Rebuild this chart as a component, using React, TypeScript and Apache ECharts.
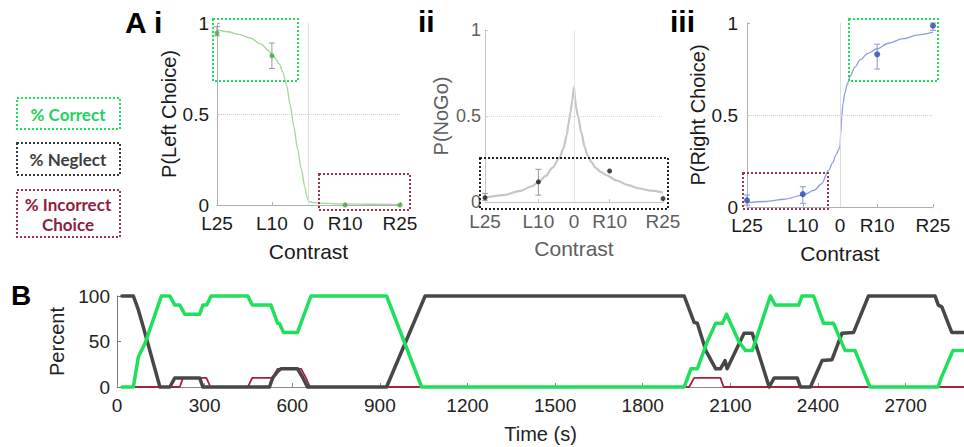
import React, { useEffect, useRef } from 'react';
import * as echarts from 'echarts';

// ---------- Panel A data ----------
const contrastTicks = [-25, -10, 0, 10, 25];
const contrastLabels = ['L25', 'L10', '0', 'R10', 'R25'];
const pointContrasts = [-25, -10, 10, 25];

// i: P(Left Choice)
const leftChoice = [0.945, 0.82, 0.0, 0.0];
const leftErrLow = [0.93, 0.75, 0.0, 0.0];
const leftErrHigh = [0.98, 0.89, 0.0, 0.0];
const leftFitX = [-25, -22, -19, -16, -13, -11, -10, -9, -8, -7, -6, -5, -4, -3, -2, -1, -0.5, 0, 1, 3, 10, 18, 25];
const leftFitY = [0.962, 0.952, 0.938, 0.918, 0.885, 0.85, 0.828, 0.805, 0.775, 0.73, 0.66, 0.55, 0.43, 0.31, 0.2, 0.1, 0.05, 0.02, 0.014, 0.01, 0.006, 0.004, 0.002];

// ii: P(NoGo)
const noGo = [0.025, 0.117, 0.18, 0.02];
const noGoErrLow = [0.01, 0.04, 0.18, 0.02];
const noGoErrHigh = [0.05, 0.19, 0.18, 0.02];
const noGoFitX = [-25, -20, -15, -12, -10, -8, -6, -4.1, -3, -2, -1.6, -1, -0.5, 0, 0.3, 0.6, 1.1, 2, 3, 3.8, 5, 6, 7.5, 9, 12, 15, 18, 21, 25];
const noGoFitY = [0.025, 0.04, 0.065, 0.09, 0.115, 0.15, 0.2, 0.256, 0.31, 0.39, 0.45, 0.52, 0.59, 0.67, 0.6, 0.55, 0.5, 0.41, 0.32, 0.27, 0.23, 0.2, 0.175, 0.157, 0.125, 0.1, 0.08, 0.068, 0.055];

// iii: P(Right Choice)
const rightChoice = [0.036, 0.07, 0.83, 0.985];
const rightErrLow = [0.01, 0.02, 0.75, 0.96];
const rightErrHigh = [0.065, 0.11, 0.885, 1.0];
const rightFitX = [-25, -20, -15, -10, -7, -5, -3, -2, -1, -0.3, 0, 0.2, 0.45, 0.8, 1.3, 2, 2.7, 4, 5.4, 7.5, 10, 13, 17, 21, 25];
const rightFitY = [0.024, 0.03, 0.042, 0.064, 0.09, 0.125, 0.2, 0.24, 0.285, 0.315, 0.33, 0.4, 0.49, 0.56, 0.62, 0.67, 0.71, 0.76, 0.8, 0.835, 0.86, 0.89, 0.915, 0.935, 0.95];

// ---------- Panel B data: [time (s), percent] ----------
const timeTicks = [0, 300, 600, 900, 1200, 1500, 1800, 2100, 2400, 2700];
const neglectPct = [
  [17, 100], [56, 100], [73, 85], [90, 66], [147, 0], [181, 0], [198, 10], [283, 10], [294, 0],
  [522, 0], [533, 10], [550, 17], [561, 20], [618, 20], [635, 11], [652, 0], [923, 0], [1055, 100],
  [1942, 100], [1976, 71], [1987, 70], [2016, 40], [2050, 20], [2066, 20], [2082, 29], [2089, 20],
  [2147, 59], [2175, 59], [2233, 0], [2250, 10], [2329, 10], [2340, 0], [2374, 0], [2414, 29],
  [2448, 30], [2482, 59], [2522, 60], [2573, 100], [2801, 100], [2812, 90], [2824, 88], [2858, 60],
  [2900, 60],
];
const correctPct = [
  [17, 0], [56, 0], [73, 33], [96, 48], [152, 100], [181, 100], [198, 90], [215, 90], [232, 80],
  [283, 80], [294, 90], [307, 90], [322, 100], [448, 100], [463, 90], [527, 90], [550, 70], [556, 70],
  [570, 60], [618, 60], [664, 100], [923, 100], [1043, 0], [1942, 0], [1965, 20], [1987, 20],
  [2021, 50], [2050, 70], [2073, 70], [2087, 80], [2129, 50], [2152, 40], [2175, 40], [2237, 100],
  [2254, 90], [2334, 90], [2345, 100], [2385, 100], [2419, 70], [2453, 70], [2493, 40], [2527, 40],
  [2578, 0], [2811, 0], [2822, 10], [2862, 40], [2900, 40],
];
const incorrectPct = [
  [17, 0], [215, 0], [226, 10], [306, 10], [320, 0], [448, 0], [463, 10], [533, 10], [550, 20],
  [630, 20], [647, 10], [661, 0], [1959, 0], [1976, 10], [2066, 10], [2077, 0], [2900, 0],
];

const FONT = "'Liberation Sans', Arial, sans-serif";
const LEGEND_FONT = "Lato, 'Noto Sans', sans-serif";
const GREEN = '#1fe05c';
const RED = '#a3304f';

const zip = (xs: number[], ys: number[]) => xs.map((x, i) => [x, ys[i]]);

const errRender = (color: string) => (params: any, api: any) => {
  const x = api.value(0);
  const lo = api.value(1);
  const hi = api.value(2);
  const a = api.coord([x, lo]);
  const b = api.coord([x, hi]);
  const w = 3;
  const st = { stroke: color, lineWidth: 1 };
  return {
    type: 'group',
    children: [
      { type: 'line', shape: { x1: a[0], y1: a[1], x2: b[0], y2: b[1] }, style: st },
      { type: 'line', shape: { x1: a[0] - w, y1: a[1], x2: a[0] + w, y2: a[1] }, style: st },
      { type: 'line', shape: { x1: b[0] - w, y1: b[1], x2: b[0] + w, y2: b[1] }, style: st },
    ],
  };
};

const errData = (lo: number[], hi: number[]) =>
  pointContrasts.map((c, i) => [c, lo[i], hi[i]]).filter((d) => d[2] > d[1]);

const contrastX = (gridIndex: number, color: string, axisColor: string, margin: number) => ({
  type: 'value',
  gridIndex,
  min: -25,
  max: 25,
  axisLine: { show: true, onZero: false, lineStyle: { color: axisColor, width: 1 } },
  axisTick: { show: true, inside: true, length: 3, customValues: contrastTicks, lineStyle: { color: axisColor } },
  axisLabel: {
    customValues: contrastTicks,
    formatter: (v: number) => contrastLabels[contrastTicks.indexOf(v)] ?? '',
    color,
    fontSize: 19,
    fontFamily: FONT,
    margin,
  },
  splitLine: { show: false },
  name: 'Contrast',
  nameLocation: 'middle',
  nameGap: 36,
  nameTextStyle: { color, fontSize: 21, fontFamily: FONT },
});

const probY = (gridIndex: number, name: string, color: string, axisColor: string, margin: number, nameGap: number, fontSize = 19) => ({
  type: 'value',
  gridIndex,
  min: 0,
  max: 1,
  interval: 0.5,
  axisLine: { show: true, onZero: false, lineStyle: { color: axisColor, width: 1 } },
  axisTick: { show: true, inside: true, length: 3, lineStyle: { color: axisColor } },
  axisLabel: { color, fontSize, fontFamily: FONT, margin },
  splitLine: { show: false },
  name,
  nameLocation: 'middle',
  nameRotate: 90,
  nameGap,
  nameTextStyle: { color, fontSize: 20, fontFamily: FONT },
});

const refLines = (vColor: string, hColor: string) => ({
  silent: true,
  symbol: ['none', 'none'],
  label: { show: false },
  data: [
    { xAxis: 0, lineStyle: { color: vColor, width: 1, type: 'solid' } },
    { yAxis: 0.5, lineStyle: { color: hColor, width: 1, type: 'dotted' } },
  ],
});

const dotBox = (x: number, y: number, w: number, h: number, color: string) => ({
  type: 'rect',
  shape: { x, y, width: w, height: h },
  style: { fill: 'none', stroke: color, lineWidth: 2, lineDash: [2, 2] },
  silent: true,
  z: 100,
});

const label = (text: string, x: number, y: number, size: number, extra: any = {}) => ({
  type: 'text',
  style: {
    text,
    x,
    y,
    fill: '#000',
    font: `bold ${size}px ${FONT}`,
    align: 'left',
    verticalAlign: 'middle',
    ...extra,
  },
  silent: true,
  z: 100,
});

const lineSmooth = { showSymbol: false, smooth: 0.3, smoothMonotone: 'x', clip: false };

export default function App() {
  const ref = useRef<HTMLDivElement>(null);

  useEffect(() => {
    if (!ref.current) return;
    const chart = echarts.init(ref.current, null, { renderer: 'svg' });

    const option: any = {
      animation: false,
      textStyle: { fontFamily: FONT },
      grid: [
        { left: 217, top: 23, width: 183, height: 182 },
        { left: 485, top: 30, width: 178, height: 172 },
        { left: 747, top: 23, width: 186, height: 184 },
        { left: 117, top: 296, width: 847, height: 91 },
      ],
      xAxis: [
        contrastX(0, '#1a1a1a', '#b0b0b0', 9),
        contrastX(1, '#5e5e5e', '#c4c4c4', 10),
        contrastX(2, '#1a1a1a', '#b0b0b0', 9),
        {
          type: 'value',
          gridIndex: 3,
          min: 0,
          max: 2900,
          axisLine: { show: true, onZero: false, lineStyle: { color: '#8a8a8a', width: 1 } },
          axisTick: { show: true, inside: true, length: 4, customValues: timeTicks, lineStyle: { color: '#8a8a8a' } },
          axisLabel: {
            customValues: timeTicks,
            formatter: (v: number) => String(v),
            color: '#222',
            fontSize: 19,
            fontFamily: FONT,
            margin: 9,
          },
          splitLine: { show: false },
          name: 'Time (s)',
          nameLocation: 'middle',
          nameGap: 37,
          nameTextStyle: { color: '#222', fontSize: 20, fontFamily: FONT },
        },
      ],
      yAxis: [
        probY(0, 'P(Left Choice)', '#1a1a1a', '#b0b0b0', 8, 35),
        probY(1, 'P(NoGo)', '#5e5e5e', '#c4c4c4', 4, 34, 18),
        probY(2, 'P(Right Choice)', '#1a1a1a', '#b0b0b0', 9, 32),
        {
          type: 'value',
          gridIndex: 3,
          min: 0,
          max: 100,
          interval: 50,
          axisLine: { show: true, onZero: false, lineStyle: { color: '#7a7a7a', width: 1 } },
          axisTick: { show: true, inside: true, length: 4, lineStyle: { color: '#7a7a7a' } },
          axisLabel: { color: '#222', fontSize: 19, fontFamily: FONT, margin: 7 },
          splitLine: { show: false },
          name: 'Percent',
          nameLocation: 'middle',
          nameRotate: 90,
          nameGap: 45,
          nameTextStyle: { color: '#222', fontSize: 20, fontFamily: FONT },
        },
      ],
      series: [
        // Panel i
        {
          type: 'line', xAxisIndex: 0, yAxisIndex: 0, data: zip(leftFitX, leftFitY), ...lineSmooth,
          lineStyle: { color: '#a3d597', width: 1.3 }, markLine: refLines('#dedede', '#cfcfcf'), z: 2,
        },
        {
          type: 'custom', xAxisIndex: 0, yAxisIndex: 0, renderItem: errRender('#9a9a9a'),
          data: errData(leftErrLow, leftErrHigh), encode: { x: 0, y: [1, 2] }, z: 3,
        },
        {
          type: 'scatter', xAxisIndex: 0, yAxisIndex: 0, data: zip(pointContrasts, leftChoice),
          symbolSize: 5, itemStyle: { color: '#45a83e' }, z: 4,
        },
        // Panel ii
        {
          type: 'line', xAxisIndex: 1, yAxisIndex: 1, data: zip(noGoFitX, noGoFitY), ...lineSmooth,
          lineStyle: { color: '#c6c6c6', width: 2.2 }, markLine: refLines('#e4e4e4', '#dadada'), z: 2,
        },
        {
          type: 'custom', xAxisIndex: 1, yAxisIndex: 1, renderItem: errRender('#999999'),
          data: errData(noGoErrLow, noGoErrHigh), encode: { x: 0, y: [1, 2] }, z: 3,
        },
        {
          type: 'scatter', xAxisIndex: 1, yAxisIndex: 1, data: zip(pointContrasts, noGo),
          symbolSize: 5, itemStyle: { color: '#1a1a1a' }, z: 4,
        },
        // Panel iii
        {
          type: 'line', xAxisIndex: 2, yAxisIndex: 2, data: zip(rightFitX, rightFitY), ...lineSmooth,
          lineStyle: { color: '#8e9de0', width: 1.3 }, markLine: refLines('#dedede', '#cfcfcf'), z: 2,
        },
        {
          type: 'custom', xAxisIndex: 2, yAxisIndex: 2, renderItem: errRender('#8a98cc'),
          data: errData(rightErrLow, rightErrHigh), encode: { x: 0, y: [1, 2] }, z: 3,
        },
        {
          type: 'scatter', xAxisIndex: 2, yAxisIndex: 2, data: zip(pointContrasts, rightChoice),
          symbolSize: 6, itemStyle: { color: '#2d4ab0' }, z: 4,
        },
        // Panel B
        {
          type: 'line', name: '% Incorrect Choice', xAxisIndex: 3, yAxisIndex: 3, data: incorrectPct,
          showSymbol: false, clip: false,
          lineStyle: { color: '#a8203a', width: 1.8, join: 'round', cap: 'round' }, z: 2,
        },
        {
          type: 'line', name: '% Neglect', xAxisIndex: 3, yAxisIndex: 3, data: neglectPct,
          showSymbol: false, clip: false,
          lineStyle: { color: '#474747', width: 3.5, join: 'round', cap: 'round' }, z: 3,
        },
        {
          type: 'line', name: '% Correct', xAxisIndex: 3, yAxisIndex: 3, data: correctPct,
          showSymbol: false, clip: false,
          lineStyle: { color: GREEN, width: 3.5, join: 'round', cap: 'round' }, z: 4,
        },
      ],
      graphic: [
        // panel labels
        label('A i', 125, 22, 30),
        label('ii', 418, 21, 30),
        label('iii', 670, 21, 30),
        label('B', 11, 295, 28),
        // annotation boxes
        dotBox(213, 19, 85, 62, GREEN),
        dotBox(319, 174, 91, 36, RED),
        dotBox(480, 158, 188, 51, '#222222'),
        dotBox(849, 19, 89, 62, GREEN),
        dotBox(743, 173, 85, 36, RED),
        // legend boxes
        dotBox(17, 98, 103, 31, GREEN),
        dotBox(17, 143, 103, 32, '#3a3a3a'),
        dotBox(17, 190, 103, 47, RED),
        {
          type: 'text', silent: true, z: 100,
          style: { text: '% Correct', x: 68, y: 114, fill: '#22d35c', font: `bold 17px ${LEGEND_FONT}`, align: 'center', verticalAlign: 'middle' },
        },
        {
          type: 'text', silent: true, z: 100,
          style: { text: '% Neglect', x: 68, y: 159, fill: '#3d3d3d', font: `bold 17px ${LEGEND_FONT}`, align: 'center', verticalAlign: 'middle' },
        },
        {
          type: 'text', silent: true, z: 100,
          style: { text: '% Incorrect\nChoice', x: 68, y: 214, fill: '#8e1d40', font: `bold 17px ${LEGEND_FONT}`, align: 'center', verticalAlign: 'middle', lineHeight: 20 },
        },
      ],
    };

    chart.setOption(option);
    return () => chart.dispose();
  }, []);

  return <div ref={ref} style={{ position: 'absolute', left: 0, top: 0, width: 964, height: 447, background: '#fff' }} />;
}
